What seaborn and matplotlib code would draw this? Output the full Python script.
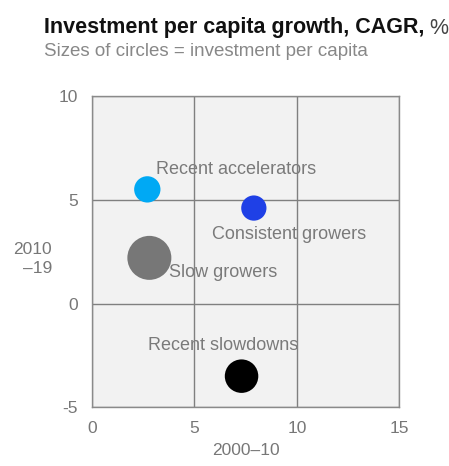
import matplotlib
matplotlib.use("Agg")
import matplotlib.pyplot as plt
import seaborn as sns
import pandas as pd

# Segment data: growth 2000-10 (x), growth 2010-19 (y), investment per capita (circle size)
segments = ["Recent accelerators", "Consistent growers", "Slow growers", "Recent slowdowns"]
growth_2000_10 = [2.7, 7.9, 2.8, 7.3]
growth_2010_19 = [5.5, 4.6, 2.2, -3.5]
investment_per_capita = [6.3, 5.8, 17.6, 10.2]
colors = ["#00A9F4", "#1F40E6", "#777777", "#000000"]

x_ticks = [0, 5, 10, 15]
y_ticks = [-5, 0, 5, 10]
x_label = "2000–10"
y_label = "2010\n–19"
title = "Investment per capita growth, CAGR,"
title_unit = " %"
subtitle = "Sizes of circles = investment per capita"

# label offsets (points) relative to each circle
label_offsets = [(6.5, 14.4), (-30, -18.7), (14.4, -10.8), (-67, 22.3)]

df = pd.DataFrame({
    "segment": segments,
    "x": growth_2000_10,
    "y": growth_2010_19,
    "inv": investment_per_capita,
})

sns.set_style("white")
plt.rcParams["font.family"] = ["Liberation Sans", "DejaVu Sans"]

fig = plt.figure(figsize=(4.49, 4.66), dpi=100)
ax = fig.add_axes([0.2049, 0.126, 0.6844, 0.668])
ax.set_facecolor("#F2F2F2")

k = 57.0
sns.scatterplot(
    data=df, x="x", y="y", hue="segment", palette=dict(zip(segments, colors)),
    size="inv", sizes=(min(investment_per_capita) * k, max(investment_per_capita) * k),
    legend=False, linewidth=0, ax=ax, zorder=4,
)

for seg, xv, yv, (dx, dy) in zip(segments, growth_2000_10, growth_2010_19, label_offsets):
    ax.annotate(seg, (xv, yv), xytext=(dx, dy), textcoords="offset points",
                ha="left", va="center", fontsize=13, color="#7A7A7A", zorder=2)

ax.set_xlim(0, 15)
ax.set_ylim(-5, 10)
ax.set_xticks(x_ticks)
ax.set_yticks(y_ticks)
ax.set_xticklabels([str(v) for v in x_ticks])
ax.set_yticklabels([str(v) for v in y_ticks])
ax.tick_params(axis="both", length=0, labelsize=12.5, labelcolor="#777777", pad=10)
ax.grid(True, color="#808080", linewidth=1.0, zorder=3)
ax.set_axisbelow(False)
for sp in ax.spines.values():
    sp.set_color("#8A8A8A")
    sp.set_linewidth(1.0)
    sp.set_zorder(3)

ax.set_xlabel(x_label, fontsize=12.5, color="#777777", labelpad=5)
ax.set_ylabel("")
fig.text(52 / 449, 1 - 259 / 466, y_label, ha="right", va="center",
         fontsize=12.5, color="#777777", linespacing=1.35)

t = fig.text(44 / 449, 1 - 28 / 466, title, ha="left", va="center",
             fontsize=15.5, fontweight="bold", color="#111111")
fig.canvas.draw()
bb = t.get_window_extent()
fig.text(bb.x1 / fig.bbox.width, 1 - 28 / 466, title_unit, ha="left", va="center",
         fontsize=15.5, color="#444444")
fig.text(44 / 449, 1 - 52 / 466, subtitle, ha="left", va="center",
         fontsize=13.5, color="#888888")

fig.savefig("out.png", dpi=100)
